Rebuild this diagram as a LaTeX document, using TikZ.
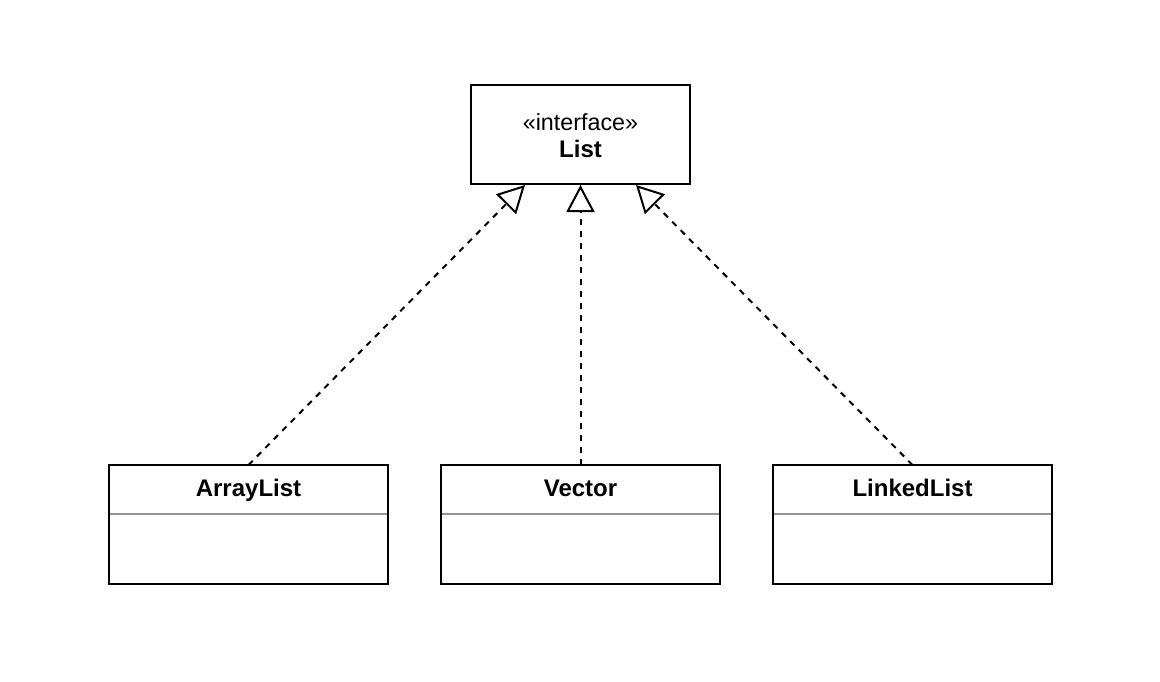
\documentclass[tikz,border=0pt]{standalone}
\usepackage{fontspec}
\setmainfont{Liberation Sans}
\usetikzlibrary{arrows.meta,calc}
\begin{document}
\begin{tikzpicture}[x=1pt,y=-1pt,
  clsbox/.style={draw=black,line width=2pt,fill=white,minimum width=279pt,minimum height=119pt,inner sep=0pt,outer sep=0pt},
  ifbox/.style={draw=black,line width=2pt,fill=white,minimum width=219pt,minimum height=99pt,inner sep=0pt,outer sep=0pt},
  clsname/.style={font=\fontsize{24}{28}\selectfont\bfseries,inner sep=0pt,anchor=base},
  divider/.style={draw=black!42,line width=2pt},
  realize/.style={draw=black,line width=2pt,dash pattern=on 6pt off 6pt,
    -{Triangle[open,length=27pt,width=28pt,fill=white]}}
]
\useasboundingbox (0,0) rectangle (1160,682);
% interface
\node[ifbox] (list) at (580.5,134.5) {};
\node[font=\fontsize{23.3}{27}\selectfont,inner sep=0pt,anchor=base] (stereo) at (580.5,131) {«interface»};
\node[clsname] (listname) at (580.5,158) {List};
% classes
\node[clsbox] (al) at (248.5,524.5) {};
\node[clsname] (alname) at (248.5,496) {ArrayList};
\draw[divider] ($(al.north west)+(1,49)$) -- ($(al.north east)+(-1,49)$);
\node[clsbox] (vec) at (580.5,524.5) {};
\node[clsname] (vecname) at (580.5,496) {Vector};
\draw[divider] ($(vec.north west)+(1,49)$) -- ($(vec.north east)+(-1,49)$);
\node[clsbox] (ll) at (912.5,524.5) {};
\node[clsname] (llname) at (912.5,496) {LinkedList};
\draw[divider] ($(ll.north west)+(1,49)$) -- ($(ll.north east)+(-1,49)$);
% realizations
\draw[realize] (al.north) -- ($(list.south)+(-55.5,1)$);
\draw[realize] (vec.north) -- ($(list.south)+(0,1)$);
\draw[realize] (ll.north) -- ($(list.south)+(55.5,1)$);
\end{tikzpicture}
\end{document}
